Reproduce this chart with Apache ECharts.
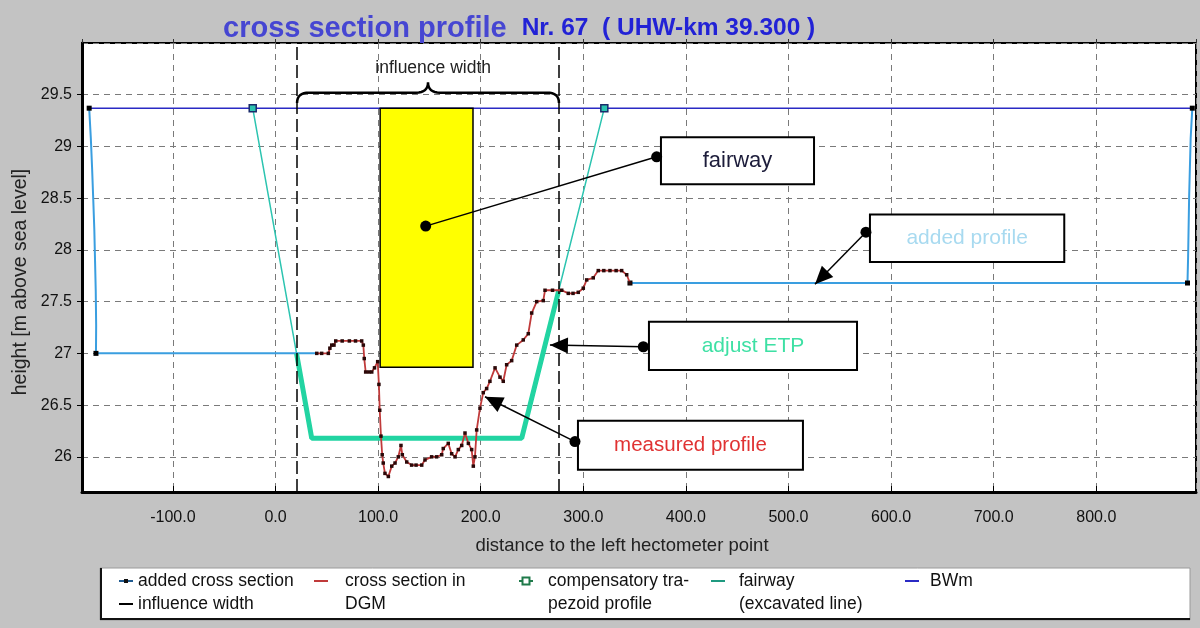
<!DOCTYPE html>
<html>
<head>
<meta charset="utf-8">
<script src="https://cdn.jsdelivr.net/npm/echarts@6/dist/echarts.min.js"></script>
<style>
  html, body { margin: 0; padding: 0; background: #c3c3c3; }
  #chart { width: 1200px; height: 628px; }
</style>
</head>
<body>
<div id="chart"></div>
<script>
// ---------- values (x: distance [m], y: height [m above sea level]) ----------
const bwmLine = [[-181.6, 29.37], [893.6, 29.37]];

const addedLeft = [
  [-181.6, 29.37], [-180.0, 29.08], [-178.8, 28.8], [-177.6, 28.48], [-176.6, 28.2],
  [-175.9, 27.9], [-175.2, 27.6], [-174.8, 27.27], [-175.0, 27.0], [40.2, 27.0]
];
const addedRight = [
  [345.5, 27.68], [888.9, 27.68], [889.5, 27.93], [890.5, 28.51], [892.0, 29.08], [893.6, 29.37]
];

const measuredProfile = [
  [40.2, 27.0], [45, 27.0], [51.5, 27.0], [53, 27.05], [54.8, 27.08], [57, 27.08], [58.7, 27.12],
  [65, 27.12], [72, 27.12], [78, 27.12], [84, 27.12], [85.6, 27.08], [86.5, 26.95], [87.9, 26.82],
  [91, 26.82], [93.8, 26.82], [96.5, 26.86], [99.6, 26.92], [100.8, 26.7], [101.6, 26.45],
  [102.8, 26.2], [104, 26.02], [105, 25.94], [106.7, 25.84], [110, 25.81], [113.3, 25.91],
  [116.5, 25.94], [119.7, 26.0], [122.3, 26.11], [123.6, 26.02], [127.9, 25.95], [132.7, 25.92],
  [137, 25.92], [142.5, 25.92], [145.7, 25.97], [152.2, 26.0], [157, 26.0], [162, 26.02],
  [163.5, 26.08], [168.4, 26.13], [171.7, 26.03], [175, 26.0], [178.2, 26.07], [181.5, 26.11],
  [184.7, 26.23], [188, 26.13], [191.2, 26.07], [192.8, 25.91], [194.4, 26.0], [196.1, 26.26],
  [199.3, 26.47], [202.5, 26.62], [205.8, 26.66], [209, 26.73], [214, 26.86], [218.8, 26.77],
  [222, 26.73], [225.3, 26.89], [230.2, 26.93], [235.1, 27.08], [241.5, 27.13], [246.4, 27.19],
  [249.7, 27.39], [254.6, 27.5], [261, 27.51], [262.7, 27.61], [270, 27.61], [279, 27.61],
  [285.4, 27.58], [290, 27.58], [295.1, 27.59], [300, 27.63], [303.3, 27.71], [309.7, 27.73],
  [314.6, 27.8], [320, 27.8], [326, 27.8], [332, 27.8], [337.4, 27.8], [342.3, 27.76], [345.5, 27.68]
];

const trapezoid = [[-22.2, 29.37], [35.3, 26.18], [240.0, 26.18], [320.5, 29.37]];
const fairwayLine = [[20.5, 27.0], [35.3, 26.18], [240.0, 26.18], [276.1, 27.61]];
const influenceWidth = [21.0, 276.3];
const fairwayBox = [[102.0, 192.5, 26.865, 29.37]]; // x from, x to, y from, y to

const titleMain = 'cross section profile';
const titleSub = 'Nr. 67  ( UHW-km 39.300 )';
const xName = 'distance to the left hectometer point';
const yName = 'height [m above sea level]';

// ---------- styling / layout ----------
const FONT = '"Liberation Sans", Arial, sans-serif';
const C = {
  bwm: '#2a2ac4',
  added: '#3a9ee0',
  measured: '#c03a3a',
  trapezoid: '#2cc4b0',
  fairway: '#22d4a2',
  grid: '#7a7a7a'
};

// callouts in axis units
const notes = [
  { text: 'fairway', color: '#1c1c3a', size: 22, box: [375.7, 28.634, 524.9, 29.088],
    dot: [371.5, 28.9], target: [146.4, 28.23], arrow: false },
  { text: 'added profile', color: '#a8daf0', size: 21, box: [579.4, 27.884, 768.8, 28.342],
    dot: [575.5, 28.171], target: [525.8, 27.669], arrow: true },
  { text: 'adjust ETP', color: '#3ee0a4', size: 21, box: [364.0, 26.839, 566.8, 27.305],
    dot: [358.5, 27.064], target: [267.5, 27.08], arrow: true },
  { text: 'measured profile', color: '#e03232', size: 20.5, box: [294.8, 25.874, 514.1, 26.349],
    dot: [291.9, 26.147], target: [204.2, 26.581], arrow: true }
];

// legend entries below the plot
const legendEntries = [
  { lines: ['added cross section'], x: 119, tx: 138, row: 0, color: '#1f5a90', kind: 'dot' },
  { lines: ['influence width'], x: 119, tx: 138, row: 1, color: '#000', kind: 'line' },
  { lines: ['cross section in', 'DGM'], x: 314, tx: 345, row: 0, color: C.measured, kind: 'line' },
  { lines: ['compensatory tra-', 'pezoid profile'], x: 519, tx: 548, row: 0, color: '#1f7a4a', kind: 'square' },
  { lines: ['fairway', '(excavated line)'], x: 711, tx: 739, row: 0, color: '#1f9a80', kind: 'line' },
  { lines: ['BWm'], x: 905, tx: 930, row: 0, color: C.bwm, kind: 'line' }
];

function endMarks(points, idx) {
  return points.map((p, i) => idx.includes(i)
    ? { value: p, symbol: 'rect', symbolSize: 5, itemStyle: { color: '#000' } }
    : { value: p });
}

const chart = echarts.init(document.getElementById('chart'), null, { renderer: 'canvas' });

const X_MIN = -188.6, X_MAX = 897.2;
const option = {
  backgroundColor: '#c3c3c3',
  animation: false,
  title: {
    text: '{a|' + titleMain + '}   {b|' + titleSub + '}',
    left: 218, top: 9,
    textStyle: {
      rich: {
        a: { fontSize: 29, fontWeight: 'bold', color: '#4646d2', fontFamily: FONT },
        b: { fontSize: 24.5, fontWeight: 'bold', color: '#2222d6', fontFamily: FONT }
      }
    }
  },
  grid: {
    left: 82, right: 4, top: 43, bottom: 136,
    show: true, backgroundColor: '#ffffff', borderColor: '#000', borderWidth: 2
  },
  xAxis: [{
    type: 'value', min: X_MIN, max: X_MAX, splitNumber: 10,
    axisLine: { show: true, onZero: false, lineStyle: { color: '#000', width: 3 } },
    axisTick: { show: true, inside: true, length: 6, lineStyle: { color: '#000' } },
    axisLabel: {
      formatter: v => v.toFixed(1), showMinLabel: false, showMaxLabel: false,
      margin: 18, fontSize: 16, color: '#111', fontFamily: FONT
    },
    splitLine: { show: true, lineStyle: { color: C.grid, type: [6, 5], width: 1 } }
  }, {
    type: 'value', position: 'top', min: X_MIN, max: X_MAX, splitNumber: 10,
    axisLine: { show: false, onZero: false },
    axisTick: { show: true, inside: false, length: 4, lineStyle: { color: '#333' } },
    axisLabel: { show: false },
    splitLine: { show: false }
  }],
  yAxis: {
    type: 'value', min: 25.66, max: 30, splitNumber: 9,
    axisLine: { show: true, onZero: false, lineStyle: { color: '#000', width: 3 } },
    axisTick: { show: true, inside: false, length: 5, lineStyle: { color: '#000' } },
    axisLabel: {
      showMinLabel: false, showMaxLabel: false,
      margin: 10, fontSize: 16, color: '#111', fontFamily: FONT
    },
    splitLine: { show: true, lineStyle: { color: C.grid, type: [6, 5], width: 1 } }
  },
  series: [
    {
      name: 'compensatory trapezoid profile', type: 'line', z: 3,
      data: endMarks(trapezoid, [0, 3]).map(d => d.symbol
        ? Object.assign(d, { symbolSize: 7, itemStyle: { color: '#2cc4b0', borderColor: '#1a2a6a', borderWidth: 1.5 } })
        : d),
      symbol: 'none', showSymbol: true,
      lineStyle: { color: C.trapezoid, width: 1.5 }
    },
    {
      name: 'fairway (excavated line)', type: 'line', z: 4,
      data: fairwayLine, symbol: 'none',
      lineStyle: { color: C.fairway, width: 5 }
    },
    {
      name: 'BWm', type: 'line', z: 3,
      data: bwmLine, symbol: 'none',
      lineStyle: { color: C.bwm, width: 1.5 }
    },
    {
      name: 'added cross section', type: 'line', z: 3,
      data: endMarks(addedLeft, [0, 8]), symbol: 'none', showSymbol: true,
      lineStyle: { color: C.added, width: 2 }
    },
    {
      name: 'added cross section', type: 'line', z: 3,
      data: endMarks(addedRight, [0, 1, 5]), symbol: 'none', showSymbol: true,
      lineStyle: { color: C.added, width: 2 }
    },
    {
      name: 'cross section in DGM', type: 'line', z: 5,
      data: measuredProfile, symbol: 'rect', symbolSize: 3.5, showSymbol: true,
      itemStyle: { color: '#2a0808' },
      lineStyle: { color: C.measured, width: 1.8 }
    },
    {
      name: 'influence width', type: 'line', z: 4, data: [],
      markLine: {
        silent: true, symbol: ['none', 'none'], label: { show: false },
        lineStyle: { color: '#000', type: [13, 5], width: 1.5 },
        data: influenceWidth.map(v => ({ xAxis: v }))
      }
    },
    {
      name: 'fairway', type: 'custom', z: 6,
      encode: { x: [0, 1], y: [2, 3] },
      data: fairwayBox,
      renderItem: (params, api) => {
        const a = api.coord([api.value(0), api.value(3)]);
        const b = api.coord([api.value(1), api.value(2)]);
        return {
          type: 'rect',
          shape: { x: a[0], y: a[1], width: b[0] - a[0], height: b[1] - a[1] },
          style: { fill: '#ffff00', stroke: '#000', lineWidth: 1.5 }
        };
      }
    }
  ]
};

chart.setOption(option);

// quadratic curve sampled into polyline points
function quad(p0, c, p1, n) {
  const pts = [];
  for (let i = 0; i <= n; i++) {
    const t = i / n, u = 1 - t;
    pts.push([u * u * p0[0] + 2 * u * t * c[0] + t * t * p1[0], u * u * p0[1] + 2 * u * t * c[1] + t * t * p1[1]]);
  }
  return pts;
}

// ---------- overlays: axis names, brace, callouts, legend ----------
function buildOverlay() {
  const px = p => chart.convertToPixel({ gridIndex: 0 }, p);
  const els = [];

  // axis names
  els.push({ type: 'text', z: 40, x: 622, y: 546, style: {
    text: xName, x: 0, y: 0, align: 'center', verticalAlign: 'middle',
    textAlign: 'center', textVerticalAlign: 'middle', fill: '#222', font: '18.5px ' + FONT } });
  els.push({ type: 'text', z: 40, x: 21, y: 282, rotation: Math.PI / 2, style: {
    text: yName, x: 0, y: 0, align: 'center', verticalAlign: 'middle',
    textAlign: 'center', textVerticalAlign: 'middle', fill: '#222', font: '19.5px ' + FONT } });

  // brace over the influence width
  const l = px([influenceWidth[0], 29.42]);
  const r = px([influenceWidth[1], 29.42]);
  const bar = px([0, 29.52])[1];
  const tip = px([0, 29.62])[1];
  const xm = (l[0] + r[0]) / 2;
  const k = 12;
  const brace = [].concat(
    quad([l[0], l[1]], [l[0], bar], [l[0] + k, bar], 8),
    quad([xm - k, bar], [xm, bar], [xm, tip], 8),
    quad([xm, tip], [xm, bar], [xm + k, bar], 8),
    quad([r[0] - k, bar], [r[0], bar], [r[0], r[1]], 8)
  );
  els.push({ type: 'polyline', shape: { points: brace }, style: { fill: null, stroke: '#000', lineWidth: 2.5 }, z: 50 });
  const lab = px([(influenceWidth[0] + influenceWidth[1]) / 2 + 5, 29.754]);
  els.push({ type: 'text', z: 50, style: {
    text: 'influence width', x: lab[0], y: lab[1], align: 'center', verticalAlign: 'middle',
    textAlign: 'center', textVerticalAlign: 'middle', fill: '#222', font: '17.5px ' + FONT } });

  // callouts
  notes.forEach(n => {
    const a = px([n.box[0], n.box[3]]);
    const b = px([n.box[2], n.box[1]]);
    els.push({ type: 'rect', z: 60, shape: { x: a[0], y: a[1], width: b[0] - a[0], height: b[1] - a[1] },
      style: { fill: '#fff', stroke: '#000', lineWidth: 2 } });
    els.push({ type: 'text', z: 61, style: {
      text: n.text, x: (a[0] + b[0]) / 2, y: (a[1] + b[1]) / 2, align: 'center', verticalAlign: 'middle',
      textAlign: 'center', textVerticalAlign: 'middle', fill: n.color, font: n.size + 'px ' + FONT } });
    const p = px(n.dot), t = px(n.target);
    els.push({ type: 'line', z: 60, shape: { x1: p[0], y1: p[1], x2: t[0], y2: t[1] },
      style: { stroke: '#000', lineWidth: 1.5 } });
    els.push({ type: 'circle', z: 61, shape: { cx: p[0], cy: p[1], r: 5.5 }, style: { fill: '#000' } });
    if (n.arrow) {
      const dx = t[0] - p[0], dy = t[1] - p[1], len = Math.hypot(dx, dy);
      const ux = dx / len, uy = dy / len, L = 18, W = 8;
      const bx = t[0] - ux * L, by = t[1] - uy * L;
      els.push({ type: 'polygon', z: 61, shape: { points: [[t[0], t[1]], [bx - uy * W, by + ux * W], [bx + uy * W, by - ux * W]] },
        style: { fill: '#000' } });
    } else {
      els.push({ type: 'circle', z: 61, shape: { cx: t[0], cy: t[1], r: 5.5 }, style: { fill: '#000' } });
    }
  });

  // legend box
  const LX = 100, LY = 568, LW = 1090, LH = 52;
  els.push({ type: 'rect', z: 70, shape: { x: LX, y: LY, width: LW, height: LH },
    style: { fill: '#fff', stroke: '#9a9a9a', lineWidth: 1 } });
  els.push({ type: 'polyline', z: 71, shape: { points: [[LX + 1, LY], [LX + 1, LY + LH - 1], [LX + LW, LY + LH - 1]] },
    style: { fill: null, stroke: '#111', lineWidth: 2 } });
  const rowY = [581, 604];
  legendEntries.forEach(e => {
    const y = rowY[e.row];
    const x2 = e.x + 14;
    els.push({ type: 'line', z: 72, shape: { x1: e.x, y1: y, x2: x2, y2: y }, style: { stroke: e.color, lineWidth: 2 } });
    if (e.kind === 'dot') {
      els.push({ type: 'rect', z: 73, shape: { x: e.x + 5, y: y - 2, width: 4, height: 4 }, style: { fill: '#111' } });
    } else if (e.kind === 'square') {
      els.push({ type: 'rect', z: 73, shape: { x: e.x + 3.5, y: y - 3.5, width: 7, height: 7 },
        style: { fill: '#fff', stroke: e.color, lineWidth: 2 } });
    }
    e.lines.forEach((s, i) => {
      els.push({ type: 'text', z: 72, style: {
        text: s, x: e.tx, y: rowY[e.row + i], align: 'left', verticalAlign: 'middle',
        textAlign: 'left', textVerticalAlign: 'middle', fill: '#111', font: '17.5px ' + FONT } });
    });
  });

  chart.setOption({ graphic: { elements: els } });
}
buildOverlay();
</script>
</body>
</html>
